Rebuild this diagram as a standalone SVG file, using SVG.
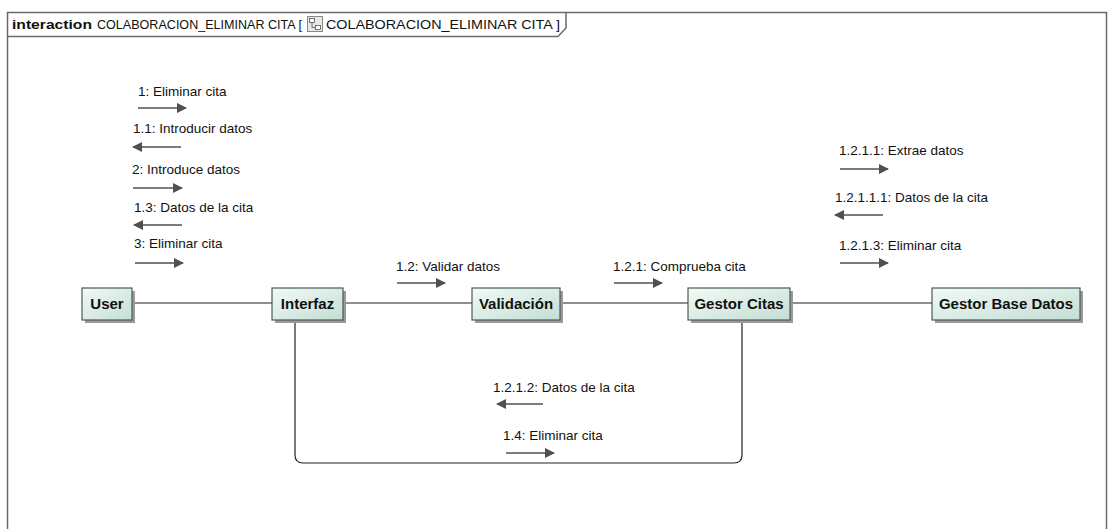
<svg xmlns="http://www.w3.org/2000/svg" width="1115" height="529" viewBox="0 0 1115 529">
<defs>
<linearGradient id="g" x1="0" y1="0" x2="1" y2="1">
<stop offset="0" stop-color="#f2faf6"/>
<stop offset="1" stop-color="#c3ded4"/>
</linearGradient>
<marker id="ah" viewBox="0 0 10 10" refX="9" refY="5" markerWidth="10" markerHeight="10" markerUnits="userSpaceOnUse" orient="auto">
<path d="M0,0 L10,5 L0,10 Z" fill="#505050"/>
</marker>
<style>
.box{fill:url(#g);stroke:#4a5a55;stroke-width:1.2}
.sh{fill:#9a9a9a}
.nl{font-family:"Liberation Sans",Arial,sans-serif;font-weight:bold;font-size:15px;fill:#111}
.ml{font-family:"Liberation Sans",Arial,sans-serif;font-size:13.5px;fill:#111}
.msg{stroke:#505050;stroke-width:1.6;fill:none;marker-end:url(#ah)}
.ln{stroke:#222;stroke-width:1.2;fill:none}
.fr{stroke:#6a6a6a;stroke-width:1.5;fill:none}
.tt{font-family:"Liberation Sans",Arial,sans-serif;font-size:13px;fill:#111}
</style>
</defs>
<rect width="1115" height="529" fill="#ffffff"/>
<g id="frame">
<path class="fr" d="M7.5 540 V12.5 H1106.5 V540"/>
<path class="fr" d="M7.5 36.5 H558 L566 28 V12.5"/>
<text class="tt" x="12" y="29" font-weight="bold" textLength="80" lengthAdjust="spacingAndGlyphs">interaction</text>
<text class="tt" x="97" y="29" textLength="205" lengthAdjust="spacingAndGlyphs">COLABORACION_ELIMINAR CITA [</text>
<g id="title-icon">
<rect x="307.5" y="16.5" width="15" height="15" fill="#e8e8e8" stroke="#888"/>
<rect x="309.5" y="18.5" width="5" height="4" fill="#fff" stroke="#555" stroke-width="0.8"/>
<rect x="315.5" y="25.5" width="5" height="4" fill="#fff" stroke="#555" stroke-width="0.8"/>
<path d="M312 22.5 V27.5 H315.5" stroke="#555" stroke-width="0.8" fill="none"/>
</g>
<text class="tt" x="326" y="29" textLength="234" lengthAdjust="spacingAndGlyphs">COLABORACION_ELIMINAR CITA ]</text>
</g>
<g id="connectors">
<line class="ln" x1="132" y1="303" x2="272" y2="303"/>
<line class="ln" x1="343" y1="303" x2="472" y2="303"/>
<line class="ln" x1="560" y1="303" x2="688" y2="303"/>
<line class="ln" x1="790" y1="303" x2="932" y2="303"/>
<path class="ln" d="M295 320 V455 Q295 463 303 463 H734 Q742 463 742 455 V320"/>
</g>
<g id="messages">
<text class="ml" x="138" y="96">1: Eliminar cita</text>
<line class="msg" x1="138" y1="108" x2="186" y2="108"/>
<text class="ml" x="133" y="133">1.1: Introducir datos</text>
<line class="msg" x1="181" y1="147" x2="133" y2="147"/>
<text class="ml" x="132" y="174">2: Introduce datos</text>
<line class="msg" x1="133" y1="188" x2="182" y2="188"/>
<text class="ml" x="134" y="212">1.3: Datos de la cita</text>
<line class="msg" x1="182" y1="225" x2="134" y2="225"/>
<text class="ml" x="134" y="248">3: Eliminar cita</text>
<line class="msg" x1="135" y1="263" x2="183" y2="263"/>
<text class="ml" x="396" y="271">1.2: Validar datos</text>
<line class="msg" x1="397" y1="283" x2="445" y2="283"/>
<text class="ml" x="613" y="271">1.2.1: Comprueba cita</text>
<line class="msg" x1="614" y1="283" x2="662" y2="283"/>
<text class="ml" x="839" y="155">1.2.1.1: Extrae datos</text>
<line class="msg" x1="840" y1="169" x2="888" y2="169"/>
<text class="ml" x="835" y="202">1.2.1.1.1: Datos de la cita</text>
<line class="msg" x1="883" y1="215" x2="835" y2="215"/>
<text class="ml" x="839" y="250">1.2.1.3: Eliminar cita</text>
<line class="msg" x1="840" y1="263" x2="888" y2="263"/>
<text class="ml" x="493" y="392">1.2.1.2: Datos de la cita</text>
<line class="msg" x1="543" y1="404" x2="497" y2="404"/>
<text class="ml" x="503" y="440">1.4: Eliminar cita</text>
<line class="msg" x1="506" y1="453" x2="554" y2="453"/>
</g>
<g id="node-user">
<rect class="sh" x="85" y="291" width="50" height="32"/>
<rect class="box" x="82" y="288" width="50" height="32"/>
<text class="nl" x="107" y="309" text-anchor="middle">User</text>
</g>
<g id="node-interfaz">
<rect class="sh" x="275" y="291" width="71" height="32"/>
<rect class="box" x="272" y="288" width="71" height="32"/>
<text class="nl" x="307.5" y="309" text-anchor="middle">Interfaz</text>
</g>
<g id="node-validacion">
<rect class="sh" x="475" y="291" width="88" height="32"/>
<rect class="box" x="472" y="288" width="88" height="32"/>
<text class="nl" x="516" y="309" text-anchor="middle">Validación</text>
</g>
<g id="node-gestor-citas">
<rect class="sh" x="691" y="291" width="102" height="32"/>
<rect class="box" x="688" y="288" width="102" height="32"/>
<text class="nl" x="739" y="309" text-anchor="middle">Gestor Citas</text>
</g>
<g id="node-gestor-base-datos">
<rect class="sh" x="935" y="291" width="148" height="32"/>
<rect class="box" x="932" y="288" width="148" height="32"/>
<text class="nl" x="1006" y="309" text-anchor="middle">Gestor Base Datos</text>
</g>
</svg>
